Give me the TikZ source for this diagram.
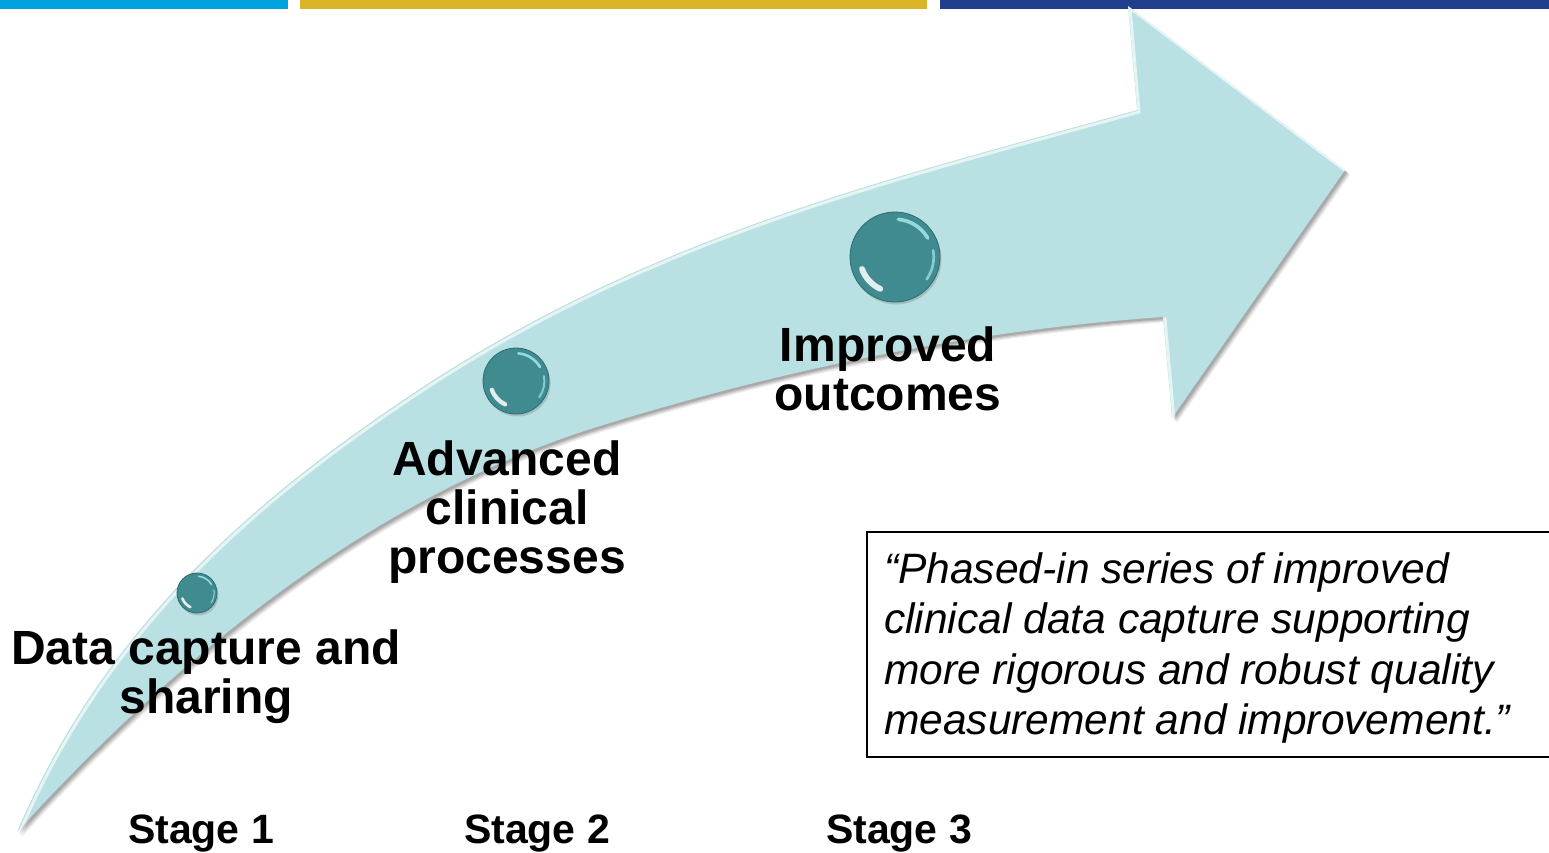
\documentclass[tikz,border=0pt]{standalone}
\usepackage{fontspec}
\setmainfont{Liberation Sans}
\usetikzlibrary{shadows}

\definecolor{barcyan}{HTML}{00A1DF}
\definecolor{bargold}{HTML}{D9B527}
\definecolor{barblue}{HTML}{213F8C}
\definecolor{bandfill}{HTML}{B9E0E2}
\definecolor{orbteal}{HTML}{3F8B90}
\definecolor{orbrim}{HTML}{2C6C70}
\definecolor{orbshine}{HTML}{A6E6EA}

% outline of the curved progress arrow (x to the right, y downwards)
\newcommand\bandoutline{(17,832) .. controls (105,625) and (259,494) .. (429,383)
  .. controls (665,230) and (901,176) .. (1137,110)
  -- (1128,6) -- (1345,170) -- (1172,418) -- (1163,317)
  .. controls (975,330) and (788,368) .. (600,426)
  .. controls (406,486) and (211,619) .. (17,832) -- cycle}

% glossy reflections on a milestone bead: #1 node name, #2 radius in pt
\newcommand\orbglints[2]{%
  \draw[white, opacity=.85, line width={0.13*#2pt}, line cap=round]
    (#1.center) ++(200:{0.78*#2pt}) arc[start angle=200, end angle=245, radius={0.78*#2pt}];
  \draw[orbshine, opacity=.85, line width={0.08*#2pt}, line cap=round]
    (#1.center) ++(30:{0.84*#2pt}) arc[start angle=30, end angle=85, radius={0.84*#2pt}];
  \draw[orbshine, opacity=.7, line width={0.06*#2pt}, line cap=round]
    (#1.center) ++(-35:{0.86*#2pt}) arc[start angle=-35, end angle=10, radius={0.86*#2pt}];
}

\tikzset{
  orb/.style={circle, fill=orbteal, draw=orbrim, line width=0.8pt, inner sep=0pt,
    minimum size=#1, drop shadow={shadow xshift=1.5pt, shadow yshift=-2.5pt, opacity=0.35}},
  heading/.style={font=\bfseries\fontsize{48}{49}\selectfont, align=center, inner sep=0pt},
  stagelabel/.style={font=\bfseries\fontsize{41}{41}\selectfont, anchor=base, inner sep=0pt},
  quoteline/.style={font=\itshape\fontsize{42.5}{50.5}\selectfont, anchor=base west, inner sep=0pt},
  quoteframe/.style={draw=black, line width=2pt, fill=white, inner sep=0pt, anchor=north west,
    minimum width=700pt, minimum height=225pt}
}

\begin{document}
\begin{tikzpicture}[x=1pt, y=-1pt]
  \useasboundingbox (0,0) rectangle (1549,852);
  \clip (0,0) rectangle (1549,852);

  % header colour bars
  \fill[barcyan] (0,0) rectangle (288,9);
  \fill[bargold] (300,0) rectangle (927,9);
  \fill[barblue] (940,0) rectangle (1549,9);

  % soft shadow under the arrow
  \foreach \d/\o in {5/0.07, 4/0.09, 3/0.11, 2/0.12} {
    \fill[black, opacity=\o, shift={(\d,\d)}] \bandoutline;
  }
  % arrow body
  \fill[bandfill] \bandoutline;
  % bevel highlight along the upper-left edges
  \begin{scope}
    \clip \bandoutline;
    \draw[white, opacity=.65, line width=3pt, line join=miter, shift={(2,2)}] \bandoutline;
  \end{scope}

  % milestone beads
  \node[orb=40pt] (dot1) at (197,593) {};
  \node[orb=66pt] (dot2) at (516,381) {};
  \node[orb=90pt] (dot3) at (895,257) {};
  \orbglints{dot1}{20}
  \orbglints{dot2}{33}
  \orbglints{dot3}{45}

  % milestone captions
  \node[heading] (cap1) at (206,677) {Data capture and\\sharing};
  \node[heading] (cap2) at (507,512.5) {Advanced\\clinical\\processes};
  \node[heading] (cap3) at (888,368.5) {Improved\\outcomes};

  % stage labels along the bottom
  \node[stagelabel] (stage1) at (201,843) {Stage 1};
  \node[stagelabel] (stage2) at (537,843) {Stage 2};
  \node[stagelabel] (stage3) at (899,843) {Stage 3};

  % quotation box
  \node[quoteframe] (quotebox) at (866,531) {};
  \node[quoteline] (q1) at (884,583) {“Phased-in series of improved};
  \node[quoteline] (q2) at (884,633) {clinical data capture supporting};
  \node[quoteline] (q3) at (884,684) {more rigorous and robust quality};
  \node[quoteline] (q4) at (884,734) {measurement and improvement.”};
\end{tikzpicture}
\end{document}
